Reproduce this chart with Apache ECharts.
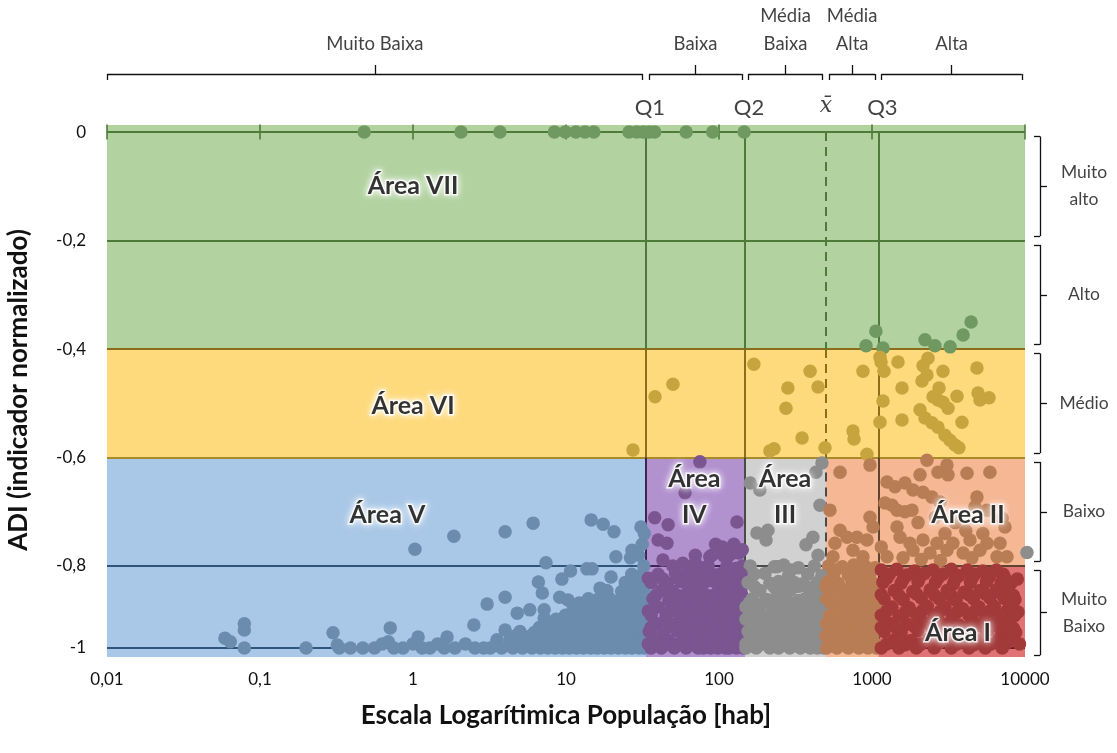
<!DOCTYPE html>
<html>
<head>
<meta charset="utf-8">
<script src="https://cdn.jsdelivr.net/npm/echarts@6/dist/echarts.min.js"></script>
<style>
html, body { margin: 0; padding: 0; background: #fff; }
#chart { width: 1117px; height: 753px; }
</style>
</head>
<body>
<div id="chart"></div>
<script>
// eixos
var xTicks = [0.01, 0.1, 1, 10, 100, 1000, 10000];
var xTickLabels = ['0,01', '0,1', '1', '10', '100', '1000', '10000'];
var yTicks = [0, -0.2, -0.4, -0.6, -0.8, -1];
var yTickLabels = ['0', '-0,2', '-0,4', '-0,6', '-0,8', '-1'];

// quartis e media da populacao
var Q1 = 33.3, Q2 = 148, MEAN = 500, Q3 = 1100;
var qNames = ['Q1', 'Q2', 'x\u0304', 'Q3'];
var qValues = [Q1, Q2, MEAN, Q3];

// classes
var popEdges = [0.01, Q1, Q2, MEAN, Q3, 10000];
var popClasses = ['Muito Baixa', 'Baixa', 'Média\nBaixa', 'Média\nAlta', 'Alta'];
var adiEdges = [0, -0.2, -0.4, -0.6, -0.8, -1];
var adiClasses = ['Muito\nalto', 'Alto', 'Médio', 'Baixo', 'Muito\nBaixo'];

var areaNames = ['Área VII', 'Área VI', 'Área V', 'Área\nIV', 'Área\nIII', 'Área II', 'Área I'];
var areaAt = [[1, -0.1], [1, -0.505], [0.68, -0.705], [69, -0.672], [270, -0.672], [4240, -0.705], [3650, -0.963]];

// municipios [populacao, ADI]
var ptsTop = [[0.48,0],[2.06,0],[3.7,0],[8.4,0],[9.9,0],[11.6,0],[13.3,0],[15.2,0],[25.8,0],[29,0],[32,0],[35,0],[38,0],[61,0],[91,0],[146,0]];
var ptsHigh = [[4440,-0.35],[3940,-0.374],[3240,-0.396],[2580,-0.394],[2220,-0.383],[1060,-0.367],[914,-0.394],[1180,-0.398]];
var ptsMid = [[27.4,-0.586],[38.2,-0.488],[50,-0.465],[169,-0.428],[394,-0.441],[282,-0.472],[274,-0.509],[444,-0.47],[349,-0.564],[215,-0.588],[229,-0.584],[493,-0.582],
  [873,-0.441],[751,-0.551],[763,-0.566],[927,-0.594],[1128,-0.415],[1146,-0.424],[1198,-0.441],[1479,-0.424],[1180,-0.496],[1128,-0.535],[1571,-0.472],[1571,-0.531],
  [2323,-0.417],[2154,-0.431],[2123,-0.459],[2287,-0.448],[2911,-0.441],[2742,-0.472],[2506,-0.488],[2700,-0.494],[2911,-0.498],[3140,-0.509],[3594,-0.487],
  [4853,-0.435],[4932,-0.481],[5080,-0.494],[5820,-0.49],[2060,-0.512],[2220,-0.527],[2466,-0.536],[2700,-0.544],[3873,-0.535],[2999,-0.559],[3236,-0.568],[3487,-0.577],[3700,-0.582]];
var ptsBlue = [[1.03,-0.769],[1.85,-0.745],[4.0,-0.737],[6.1,-0.721],[14.6,-0.715],[17.5,-0.723],[20.6,-0.737],[30.9,-0.728],[21.2,-0.783],[27,-0.771],[26.4,-0.785],[7.4,-0.794],
  [10.7,-0.812],[13.7,-0.807],[14.8,-0.807],[6.6,-0.839],[9.4,-0.832],[7.0,-0.866],[19.7,-0.827],[28.1,-0.846],[16.7,-0.854],[17.2,-0.876],[22.5,-0.883],[4.0,-0.876],
  [3.05,-0.893],[9.1,-0.876],[10.3,-0.883],[4.8,-0.915],[5.8,-0.907],[7.2,-0.907],[7.2,-0.927],[9.9,-0.92],[11.9,-0.92],[14.3,-0.912],[9.9,-0.95],[2.5,-0.944],
  [4.0,-0.956],[0.71,-0.951],[1.08,-0.973],[1.67,-0.973],[0.69,-0.985],[0.86,-1],[1.29,-1],[1.88,-1],[2.54,-1],[3.54,-0.98],[5.8,-0.973],[7.4,-0.973],[12.4,-0.988],[14.8,-0.973],
  [0.059,-0.976],[0.064,-0.985],[0.079,-0.941],[0.079,-0.956],[0.079,-1],[0.2,-1],[0.3,-0.963],[0.32,-0.993],[0.39,-1],[0.56,-1],
  [0.33,-1],[0.47,-1],[0.63,-0.99],[0.75,-1],[1.0,-0.99],[1.15,-1],[1.45,-0.99],[1.6,-1],[2.2,-0.99],[2.9,-1]];
var ptsBlueDense = [[3.2,-1],[3.8,-1],[4.5,-1],[5.2,-1],[6,-1],[6.8,-1],[7.6,-1],[8.5,-1],[9.5,-1],[10.5,-1],[11.7,-1],[13,-1],[14.5,-1],[16,-1],[17.8,-1],[19.7,-1],[22,-1],[24.5,-1],[27,-1],[30,-1],[32.5,-1],
  [3.5,-0.99],[4.9,-0.99],[6.4,-0.992],[7.3,-0.99],[9.2,-0.988],[11.4,-0.99],[14,-0.992],[16.6,-0.99],[20.4,-0.99],[23.7,-0.988],[28,-0.99],[31,-0.99],
  [4.3,-0.98],[5.6,-0.982],[6.5,-0.978],[8.2,-0.98],[9,-0.984],[10,-0.98],[11,-0.976],[12.2,-0.98],[13.6,-0.982],[15.2,-0.98],[17,-0.978],[18.8,-0.98],[21,-0.984],[23.2,-0.98],[25.8,-0.978],[28.5,-0.98],[31.5,-0.982],
  [4.7,-0.97],[5.9,-0.97],[7.5,-0.972],[8.8,-0.97],[10.3,-0.968],[12.7,-0.97],[14.9,-0.972],[17.5,-0.97],[19.4,-0.968],[23,-0.97],[26.3,-0.972],[29.2,-0.97],[32.4,-0.97],
  [5,-0.96],[6.2,-0.962],[7.1,-0.958],[8,-0.96],[9.6,-0.964],[10.6,-0.96],[11.8,-0.958],[13,-0.96],[14.6,-0.962],[16.2,-0.96],[18,-0.958],[20,-0.96],[22.4,-0.964],[25,-0.96],[27.5,-0.958],[30.5,-0.96],[32.8,-0.962],
  [6.7,-0.95],[8.6,-0.952],[11.5,-0.948],[13.5,-0.95],[15.5,-0.952],[18.6,-0.95],[21,-0.948],[24.2,-0.95],[26,-0.952],[29,-0.95],[31.8,-0.948],
  [7.8,-0.94],[9.2,-0.942],[10.9,-0.938],[12.5,-0.94],[14,-0.944],[15.8,-0.94],[17.4,-0.938],[19.3,-0.94],[21.5,-0.942],[23.8,-0.94],[26.5,-0.938],[29.5,-0.94],[32,-0.944],
  [8.6,-0.93],[11.4,-0.932],[16.5,-0.928],[20.2,-0.93],[22.6,-0.932],[25.3,-0.93],[28.2,-0.928],[30.7,-0.93],[33,-0.932],
  [10.2,-0.92],[12,-0.922],[13.8,-0.918],[15.3,-0.92],[17.2,-0.924],[19,-0.92],[21.2,-0.918],[23.5,-0.92],[26,-0.922],[28.8,-0.92],[31.6,-0.918],
  [12.8,-0.91],[16.6,-0.912],[19.9,-0.908],[24.6,-0.91],[27.2,-0.912],[30.2,-0.91],[32.6,-0.908],
  [11.2,-0.9],[13.1,-0.902],[15.1,-0.898],[18.2,-0.9],[20.4,-0.904],[22.8,-0.9],[25.2,-0.898],[27.9,-0.9],[30.8,-0.902],[33,-0.9],
  [12.2,-0.89],[17,-0.892],[21.4,-0.888],[28.4,-0.89],[31.4,-0.892],
  [14,-0.88],[16.1,-0.882],[19.1,-0.878],[24,-0.88],[26.6,-0.884],[29.4,-0.88],[32.2,-0.878],
  [18.5,-0.86],[23.1,-0.862],[25.6,-0.858],[30.1,-0.86],[32.4,-0.864],
  [24.4,-0.84],[29,-0.842],[32,-0.838],[26.9,-0.82],[31.2,-0.822],
  [32.2,-0.8],[29.8,-0.78],[31.5,-0.76],[32.5,-0.74]];
var ptsPurple = [[75,-0.608],[60,-0.665],[38,-0.711],[46.5,-0.724],[40,-0.752],[45.7,-0.758],[43,-0.789],[131,-0.719],[98,-0.771],[87,-0.783],[113,-0.785],[70,-0.794],[84,-0.802],
  [95,-0.76],[105,-0.765],[125,-0.76],[142,-0.77],[70,-0.78],[58,-0.795],[50,-0.8],
  [90,-0.78],[100,-0.775],[108,-0.782],[120,-0.778],[135,-0.776],
  [66,-0.8],[78,-0.805],[85,-0.8],[112,-0.802],[128,-0.806],[142,-0.8],
  [40,-0.82],[52,-0.818],[60,-0.824],[72,-0.82],[95,-0.822],[104,-0.818],[124,-0.825],[140,-0.82],
  [34.5,-0.83],[43,-0.832],[55,-0.828],[65,-0.83],[85,-0.832],[100,-0.83],[115,-0.828],[135,-0.83],
  [36,-0.84],[46,-0.842],[56,-0.838],[68,-0.845],[80,-0.84],[90,-0.836],[116,-0.842],[132,-0.84],[145,-0.844],
  [42,-0.86],[50,-0.862],[63,-0.858],[75,-0.865],[99,-0.86],[110,-0.858],[126,-0.862],[140,-0.866],
  [39,-0.87],[54,-0.872],[66,-0.868],[82,-0.87],[92,-0.872],[104,-0.87],[118,-0.868],[133,-0.87],
  [37,-0.88],[47,-0.884],[57,-0.878],[70,-0.882],[84,-0.88],[94,-0.886],[106,-0.88],[120,-0.884],[136,-0.878],[146,-0.882],
  [40,-0.9],[52,-0.902],[62,-0.898],[77,-0.904],[89,-0.9],[101,-0.898],[114,-0.902],[130,-0.9],[143,-0.906],
  [34.5,-0.91],[47,-0.912],[58,-0.908],[71,-0.91],[84,-0.912],[93,-0.91],[120,-0.908],[136,-0.91],[147,-0.912],
  [36,-0.92],[45,-0.922],[55,-0.918],[67,-0.924],[81,-0.92],[97,-0.922],[108,-0.918],[124,-0.92],[139,-0.924],
  [39,-0.94],[49,-0.942],[60,-0.938],[72,-0.944],[86,-0.94],[93,-0.936],[104,-0.942],[118,-0.94],[133,-0.944],[146,-0.938],
  [36,-0.95],[45,-0.952],[56,-0.948],[68,-0.95],[81,-0.952],[96,-0.95],[108,-0.948],[124,-0.95],[138,-0.952],
  [35,-0.96],[43,-0.962],[53,-0.958],[64,-0.964],[76,-0.96],[90,-0.958],[100,-0.962],[112,-0.96],[127,-0.964],[141,-0.958],
  [38,-0.98],[47,-0.982],[58,-0.978],[69,-0.984],[82,-0.98],[95,-0.978],[107,-0.982],[121,-0.98],[136,-0.984],[147,-0.978],
  [34.5,-0.99],[44,-0.992],[54,-0.99],[64,-0.988],[76,-0.99],[91,-0.992],[102,-0.99],[115,-0.988],[128,-0.99],[141,-0.992],
  [36,-1],[42,-1],[51,-1],[61,-1],[73,-1],[79,-1],[88,-1],[98,-1],[110,-1],[116,-1],[130,-1],[144,-1]];
var ptsGrey = [[471,-0.61],[430,-0.627],[160,-0.647],[185,-0.66],[457,-0.688],[177,-0.739],[203,-0.752],[370,-0.761],[444,-0.78],[209,-0.734],[411,-0.747],[296,-0.81],[240,-0.802],
  [160,-0.8],[230,-0.802],[265,-0.798],[330,-0.804],[420,-0.8],
  [170,-0.82],[200,-0.818],[285,-0.822],[380,-0.82],[470,-0.824],
  [155,-0.84],[215,-0.842],[245,-0.838],[310,-0.84],[350,-0.844],[440,-0.84],
  [170,-0.85],[230,-0.852],[280,-0.848],[330,-0.85],[380,-0.852],[460,-0.85],
  [185,-0.86],[260,-0.862],[295,-0.858],[400,-0.86],[485,-0.864],
  [165,-0.88],[205,-0.882],[235,-0.878],[275,-0.88],[330,-0.884],[365,-0.88],[455,-0.878],
  [158,-0.89],[190,-0.892],[240,-0.888],[290,-0.89],[320,-0.892],[390,-0.89],[430,-0.888],[470,-0.89],
  [150,-0.9],[180,-0.902],[220,-0.898],[250,-0.9],[300,-0.904],[345,-0.9],[420,-0.898],[490,-0.902],
  [160,-0.92],[195,-0.922],[230,-0.918],[265,-0.92],[315,-0.924],[380,-0.92],[445,-0.918],
  [150,-0.93],[180,-0.932],[215,-0.928],[250,-0.93],[295,-0.932],[350,-0.93],[410,-0.928],[480,-0.93],
  [170,-0.94],[210,-0.942],[240,-0.938],[285,-0.94],[335,-0.944],[360,-0.94],[405,-0.938],[470,-0.942],
  [155,-0.96],[185,-0.962],[225,-0.958],[255,-0.96],[300,-0.964],[350,-0.96],[390,-0.958],[430,-0.962],[495,-0.96],
  [160,-0.97],[200,-0.972],[245,-0.968],[285,-0.97],[335,-0.972],[380,-0.97],[450,-0.968],[485,-0.97],
  [165,-0.98],[200,-0.982],[235,-0.978],[270,-0.98],[320,-0.984],[370,-0.98],[415,-0.978],[460,-0.982],
  [150,-0.99],[185,-0.992],[225,-0.99],[260,-0.988],[305,-0.99],[355,-0.992],[400,-0.99],[475,-0.988],
  [150,-1],[175,-1],[215,-1],[245,-1],[290,-1],[340,-1],[395,-1],[440,-1],[485,-1]];
var ptsOrange = [[618,-0.627],[970,-0.614],[1254,-0.645],[1413,-0.654],[1643,-0.647],[1853,-0.66],[2060,-0.632],[2287,-0.605],[2700,-0.627],[3090,-0.614],[3140,-0.632],[4180,-0.629],[5900,-0.627],
  [1217,-0.684],[1352,-0.688],[1457,-0.697],[1643,-0.7],[1825,-0.697],[2154,-0.664],[2466,-0.673],[2780,-0.682],[4853,-0.673],[4710,-0.691],[5650,-0.697],[7080,-0.712],[7400,-0.728],
  [1457,-0.728],[1525,-0.747],[1770,-0.758],[2154,-0.752],[2660,-0.758],[3380,-0.758],[4370,-0.752],[5650,-0.758],[6870,-0.758],
  [1853,-0.771],[2395,-0.776],[3090,-0.771],[3940,-0.776],[5080,-0.771],[6560,-0.783],[7630,-0.783],[1254,-0.783],[1595,-0.785],
  [618,-0.734],[687,-0.747],[798,-0.747],[927,-0.752],[1016,-0.728],[970,-0.71],[573,-0.758],[556,-0.783],[751,-0.771],[873,-0.783],[531,-0.697],
  [2600,-0.71],[3500,-0.72],[4100,-0.735],[3000,-0.74],[2000,-0.72],[1150,-0.765],[5300,-0.74],[4500,-0.785],[2800,-0.79],[2100,-0.788],
  [520,-0.8],[640,-0.802],[760,-0.798],[900,-0.8],[1050,-0.804],
  [580,-0.81],[700,-0.812],[840,-0.808],[990,-0.81],
  [560,-0.82],[700,-0.822],[830,-0.818],[970,-0.82],
  [510,-0.84],[600,-0.842],[740,-0.838],[880,-0.84],[1060,-0.844],
  [500,-0.85],[620,-0.852],[760,-0.848],[900,-0.85],[1050,-0.852],
  [545,-0.86],[670,-0.862],[800,-0.858],[950,-0.86],
  [505,-0.88],[620,-0.882],[720,-0.878],[860,-0.88],[1020,-0.884],
  [540,-0.89],[660,-0.892],[800,-0.888],[960,-0.89],
  [580,-0.9],[690,-0.902],[780,-0.898],[930,-0.9],[1075,-0.902],
  [530,-0.92],[650,-0.922],[750,-0.918],[880,-0.92],[990,-0.924],
  [560,-0.93],[700,-0.932],[820,-0.928],[1040,-0.93],
  [505,-0.94],[600,-0.942],[710,-0.938],[830,-0.94],[960,-0.944],[1080,-0.94],
  [560,-0.96],[670,-0.962],[790,-0.958],[910,-0.96],[1040,-0.962],
  [500,-0.97],[610,-0.972],[730,-0.968],[850,-0.97],[990,-0.972],
  [520,-0.98],[630,-0.982],[740,-0.978],[860,-0.98],[990,-0.984],
  [560,-0.99],[680,-0.992],[800,-0.99],[930,-0.988],[1060,-0.99],
  [505,-1],[590,-1],[700,-1],[820,-1],[940,-1],[1070,-1]];
var ptsRed = [[1150,-0.81],[1450,-0.808],[1900,-0.812],[2500,-0.81],[3300,-0.808],[4200,-0.81],[5300,-0.812],[6500,-0.81],
  [1300,-0.82],[1700,-0.822],[2200,-0.818],[2900,-0.82],[3700,-0.824],[4700,-0.82],[6000,-0.818],[7200,-0.82],
  [1250,-0.83],[1600,-0.832],[2050,-0.828],[2700,-0.83],[3500,-0.832],[4500,-0.83],[5800,-0.828],[7400,-0.83],[8900,-0.832],
  [1180,-0.84],[1550,-0.842],[2000,-0.838],[2600,-0.84],[3400,-0.844],[4400,-0.84],[5600,-0.838],[7000,-0.84],[8100,-0.842],
  [1400,-0.86],[1850,-0.862],[2400,-0.858],[3100,-0.86],[4000,-0.864],[5100,-0.86],[6500,-0.858],[7800,-0.86],
  [1150,-0.87],[1500,-0.872],[1950,-0.868],[2550,-0.87],[3300,-0.872],[4300,-0.87],[5500,-0.868],[7100,-0.87],[8400,-0.872],
  [1200,-0.88],[1600,-0.882],[2100,-0.878],[2750,-0.88],[3550,-0.884],[4600,-0.88],[5900,-0.878],[7400,-0.88],[8600,-0.882],
  [1350,-0.9],[1750,-0.902],[2300,-0.898],[3000,-0.9],[3900,-0.904],[5000,-0.9],[6300,-0.898],[8000,-0.9],
  [1250,-0.91],[1650,-0.912],[2150,-0.908],[2800,-0.91],[3600,-0.912],[4700,-0.91],[6000,-0.908],[7600,-0.91],[9000,-0.912],
  [1150,-0.92],[1500,-0.922],[1950,-0.918],[2550,-0.92],[3350,-0.924],[4300,-0.92],[5500,-0.918],[7000,-0.92],[8500,-0.922],
  [1300,-0.94],[1700,-0.942],[2200,-0.938],[2850,-0.94],[3700,-0.944],[4800,-0.94],[6100,-0.938],[7700,-0.94],
  [1150,-0.95],[1450,-0.952],[1900,-0.948],[2450,-0.95],[3200,-0.952],[4150,-0.95],[5300,-0.948],[6800,-0.95],[8400,-0.952],
  [1200,-0.96],[1550,-0.962],[2000,-0.958],[2650,-0.96],[3450,-0.964],[4450,-0.96],[5700,-0.958],[7300,-0.96],[8700,-0.962],
  [1400,-0.98],[1800,-0.982],[2350,-0.978],[3050,-0.98],[4000,-0.984],[5200,-0.98],[6700,-0.978],[8200,-0.98],
  [1250,-0.99],[1650,-0.992],[2100,-0.99],[2750,-0.988],[3600,-0.99],[4650,-0.992],[6000,-0.99],[7600,-0.988],[9200,-0.99],
  [1150,-1],[1500,-1],[1950,-1],[2550,-1],[3300,-1],[4300,-1],[5500,-1],[7100,-1]];
var ptsOutside = [[10300,-0.775]];

var FONT = 'Lato';
var Y_TOP = 0.013, Y_BOT = -1.022;

var fill = { green: '#B2D3A0', gold: '#FEDA7C', blue: '#A9C8E7', purple: '#B291CF', grey: '#D1D1D1', orange: '#F5B794', red: '#E07373' };
var dot = { green: '#6F9960', gold: '#C8A43E', blue: '#6B8CAD', purple: '#7A5590', grey: '#8D8D8D', orange: '#B97D55', red: '#A23A3A', out: '#8D8D8D' };
var lineCol = { green: '#4E7B3A', gold: '#8C6D1C', gold2: '#A88A2A', blue: '#2F557A', purple: '#3F2456', grey: '#4A4A4A', orange: '#5E4330', red: '#6E1C1C' };

function zoneOf(x, y) {
    if (x > popEdges[5]) return 'out';
    if (y > adiEdges[2]) return 'green';
    if (y > adiEdges[3]) return 'gold';
    if (x < Q1) return 'blue';
    if (x < Q2) return 'purple';
    if (x < MEAN) return 'grey';
    if (y > adiEdges[4] || x < Q3) return 'orange';
    return 'red';
}

function rect(x1, y1, x2, y2, c) {
    return [{ coord: [x1, y1], itemStyle: { color: c } }, { coord: [x2, y2] }];
}
function seg(x1, y1, x2, y2, c, w, t) {
    return [{ coord: [x1, y1], lineStyle: { color: c, width: w || 2, type: t || 'solid' } }, { coord: [x2, y2] }];
}

// fundos
var areasUp = [
    rect(popEdges[0], Y_TOP, popEdges[5], adiEdges[2], fill.green),
    rect(popEdges[0], adiEdges[2], popEdges[5], adiEdges[3], fill.gold)
];
var upKeys = ['blue', 'purple', 'grey', 'orange'];
for (var i = 0; i < 4; i++) {
    areasUp.push(rect(popEdges[i], adiEdges[3], i === 3 ? popEdges[5] : popEdges[i + 1], adiEdges[4], fill[upKeys[i]]));
}
var lowKeys = ['blue', 'purple', 'grey', 'orange', 'red'];
var areasLow = [];
for (var i = 0; i < 5; i++) {
    areasLow.push(rect(popEdges[i], adiEdges[4], popEdges[i + 1], Y_BOT, fill[lowKeys[i]]));
}

// linhas
var qLow = [lineCol.purple, lineCol.grey, lineCol.grey, lineCol.orange];
var qLow2 = [lineCol.purple, lineCol.grey, lineCol.grey, lineCol.red];
var linesUp = [
    seg(popEdges[0], adiEdges[0], popEdges[5], adiEdges[0], lineCol.green),
    seg(popEdges[0], adiEdges[1], popEdges[5], adiEdges[1], lineCol.green),
    seg(popEdges[0], adiEdges[2], popEdges[5], adiEdges[2], lineCol.gold),
    seg(popEdges[0], adiEdges[3], popEdges[5], adiEdges[3], lineCol.gold2)
];
var linesLow = [];
qValues.forEach(function (q, i) {
    var t = i === 2 ? [9, 6] : 'solid';
    linesUp.push(seg(q, adiEdges[0], q, adiEdges[2], lineCol.green, 2, t));
    linesUp.push(seg(q, adiEdges[2], q, adiEdges[3], lineCol.gold, 2, t));
    linesUp.push(seg(q, adiEdges[3], q, adiEdges[4], qLow[i], 2, t));
    linesLow.push(seg(q, adiEdges[4], q, adiEdges[5], qLow2[i], 2, t));
});
var hKeys = ['blue', 'purple', 'grey', 'orange', 'red'];
for (var i = 0; i < 5; i++) {
    var c8 = i === 4 ? lineCol.orange : lineCol[hKeys[i]];
    linesUp.push(seg(popEdges[i], adiEdges[4], popEdges[i + 1], adiEdges[4], c8));
    linesLow.push(seg(popEdges[i], adiEdges[5], popEdges[i + 1], adiEdges[5], lineCol[hKeys[i]]));
}

// chaves de cima (classes de populacao)
var topLines = [], topLabels = [];
var gap = 1.05;
for (var i = 0; i < popClasses.length; i++) {
    var a = popEdges[i] * (i === 0 ? 1 : gap), b = popEdges[i + 1] / gap, m = Math.sqrt(a * b);
    topLines.push(seg(a, 74, b, 74, '#111', 1.3));
    topLines.push(seg(a, 74, a, 80, '#111', 1.3));
    topLines.push(seg(b, 74, b, 80, '#111', 1.3));
    topLines.push(seg(m, 74, m, 65, '#111', 1.3));
    topLabels.push({ value: [m, 62], name: popClasses[i] });
}

// chaves da direita (classes de ADI)
var rightUp = [], rightLow = [], rightLabUp = [], rightLabLow = [];
for (var j = 0; j < adiClasses.length; j++) {
    var pad = j === 4 ? 0.01 : 0.008;
    var yHi = adiEdges[j] - pad;
    var yLo = j === 4 ? -1.018 : adiEdges[j + 1] + pad;
    var yMid = (yHi + yLo) / 2;
    var arr = j === 4 ? rightLow : rightUp;
    arr.push(seg(15, yHi, 15, yLo, '#111', 1.3));
    arr.push(seg(9, yHi, 15, yHi, '#111', 1.3));
    arr.push(seg(9, yLo, 15, yLo, '#111', 1.3));
    arr.push(seg(15, yMid, 22, yMid, '#111', 1.3));
    (j === 4 ? rightLabLow : rightLabUp).push({ value: [59, yMid], name: adiClasses[j] });
}

var allPts = [].concat(ptsTop, ptsHigh, ptsMid, ptsBlue, ptsBlueDense, ptsPurple, ptsGrey, ptsOrange, ptsRed, ptsOutside);
var ptsUp = allPts.filter(function (p) { return p[1] >= adiEdges[4]; });
var ptsLow = allPts.filter(function (p) { return p[1] < adiEdges[4]; });

function dotColor(p) { return dot[zoneOf(p.value[0], p.value[1])]; }
function fmtY(v) {
    for (var k = 0; k < yTicks.length; k++) if (Math.abs(v - yTicks[k]) < 1e-6) return yTickLabels[k];
    return '';
}
function fmtX(v) { return xTickLabels[Math.round(Math.log10(v)) + 2]; }

var areaLabel = {
    show: true, position: 'inside', formatter: '{b}', color: '#000', fontFamily: FONT, fontWeight: 'bold', fontSize: 25,
    lineHeight: 36, textBorderColor: '#fff', textBorderWidth: 3, textShadowColor: '#fff', textShadowBlur: 7
};
var upArea = [], lowArea = [];
areaAt.forEach(function (p, i) {
    (p[1] >= adiEdges[4] ? upArea : lowArea).push({ value: p, name: areaNames[i] });
});

var hidden = { show: false };
var chart = echarts.init(document.getElementById('chart'));
chart.setOption({
    animation: false,
    textStyle: { fontFamily: FONT },
    grid: [
        { left: 107, width: 918, top: 125, height: 441 },
        { left: 107, width: 918, top: 566, height: 91 },
        { left: 107, width: 918, top: 0, height: 125 },
        { left: 1025, width: 92, top: 125, height: 441 },
        { left: 1025, width: 92, top: 566, height: 91 }
    ],
    xAxis: [
        { gridIndex: 0, type: 'log', logBase: 10, min: 0.01, max: 10000, axisLine: hidden, axisTick: hidden, axisLabel: hidden, splitLine: hidden },
        { gridIndex: 1, type: 'log', logBase: 10, min: 0.01, max: 10000, axisLine: hidden, axisTick: hidden, splitLine: hidden,
          axisLabel: { customValues: xTicks, formatter: fmtX, fontSize: 17, color: '#111', margin: 14 },
          name: 'Escala Logarítimica População [hab]', nameLocation: 'middle', nameGap: 46,
          nameTextStyle: { fontSize: 26, fontWeight: 'bold', color: '#111', fontFamily: FONT } },
        { gridIndex: 2, type: 'log', logBase: 10, min: 0.01, max: 10000, show: false },
        { gridIndex: 3, type: 'value', min: 0, max: 92, show: false },
        { gridIndex: 4, type: 'value', min: 0, max: 92, show: false }
    ],
    yAxis: [
        { gridIndex: 0, type: 'value', min: adiEdges[4], max: Y_TOP, axisLine: hidden, axisTick: hidden, splitLine: hidden,
          axisLabel: { customValues: yTicks.slice(0, 5), formatter: fmtY, fontSize: 17, color: '#111', margin: 21 } },
        { gridIndex: 1, type: 'value', min: Y_BOT, max: adiEdges[4], axisLine: hidden, axisTick: hidden, splitLine: hidden,
          axisLabel: { customValues: [adiEdges[5]], formatter: fmtY, fontSize: 17, color: '#111', margin: 21 } },
        { gridIndex: 2, type: 'value', min: 0, max: 125, inverse: true, show: false },
        { gridIndex: 3, type: 'value', min: adiEdges[4], max: Y_TOP, show: false },
        { gridIndex: 4, type: 'value', min: Y_BOT, max: adiEdges[4], show: false }
    ],
    graphic: [{
        type: 'text', x: 19, y: 390, rotation: Math.PI / 2,
        style: { text: 'ADI (indicador normalizado)', font: 'bold 26px Lato', fill: '#111',
                 textAlign: 'center', textVerticalAlign: 'middle', align: 'center', verticalAlign: 'middle' }
    }],
    series: [
        { type: 'scatter', xAxisIndex: 0, yAxisIndex: 0, data: [], silent: true, z: 1,
          markArea: { silent: true, z: 1, data: areasUp } },
        { type: 'scatter', xAxisIndex: 1, yAxisIndex: 1, data: [], silent: true, z: 1,
          markArea: { silent: true, z: 1, data: areasLow } },
        { type: 'scatter', xAxisIndex: 0, yAxisIndex: 0, data: xTicks.map(function (v) { return [v, adiEdges[0]]; }),
          symbol: 'rect', symbolSize: [2, 15], itemStyle: { color: lineCol.green }, silent: true, z: 2,
          markLine: { silent: true, z: 2, symbol: ['none', 'none'], label: hidden, data: linesUp } },
        { type: 'scatter', xAxisIndex: 1, yAxisIndex: 1, data: [], silent: true, z: 2,
          markLine: { silent: true, z: 2, symbol: ['none', 'none'], label: hidden, data: linesLow } },
        { type: 'scatter', xAxisIndex: 0, yAxisIndex: 0, data: ptsUp, symbolSize: 13.5, clip: false, z: 3,
          itemStyle: { color: dotColor, opacity: 1 } },
        { type: 'scatter', xAxisIndex: 1, yAxisIndex: 1, data: ptsLow, symbolSize: 13.5, clip: false, z: 3,
          itemStyle: { color: dotColor, opacity: 1 } },
        { type: 'scatter', xAxisIndex: 0, yAxisIndex: 0, data: upArea, symbolSize: 1, clip: false, z: 5, silent: true,
          itemStyle: { color: 'rgba(0,0,0,0)' }, label: areaLabel },
        { type: 'scatter', xAxisIndex: 1, yAxisIndex: 1, data: lowArea, symbolSize: 1, clip: false, z: 5, silent: true,
          itemStyle: { color: 'rgba(0,0,0,0)' }, label: areaLabel },
        { type: 'scatter', xAxisIndex: 2, yAxisIndex: 2, silent: true, symbolSize: 1, itemStyle: { color: 'rgba(0,0,0,0)' },
          data: topLabels,
          label: { show: true, position: 'top', distance: 3, formatter: '{b}', fontSize: 18.5, lineHeight: 28, color: '#111' },
          markLine: { silent: true, symbol: ['none', 'none'], label: hidden, data: topLines } },
        { type: 'scatter', xAxisIndex: 2, yAxisIndex: 2, silent: true, symbolSize: 1, itemStyle: { color: 'rgba(0,0,0,0)' },
          data: qValues.map(function (q, i) {
              return { value: [q, 108], name: qNames[i],
                       label: i === 2 ? { fontFamily: 'DejaVu Serif', fontStyle: 'italic', offset: [0, -2] } : { offset: [4, 0] } };
          }),
          label: { show: true, position: 'inside', formatter: '{b}', fontSize: 22, color: '#111' } },
        { type: 'scatter', xAxisIndex: 3, yAxisIndex: 3, silent: true, symbolSize: 1, itemStyle: { color: 'rgba(0,0,0,0)' },
          data: rightLabUp,
          label: { show: true, position: 'inside', formatter: '{b}', fontSize: 17.5, lineHeight: 27, color: '#111' },
          markLine: { silent: true, symbol: ['none', 'none'], label: hidden, data: rightUp } },
        { type: 'scatter', xAxisIndex: 4, yAxisIndex: 4, silent: true, symbolSize: 1, itemStyle: { color: 'rgba(0,0,0,0)' },
          data: rightLabLow,
          label: { show: true, position: 'inside', formatter: '{b}', fontSize: 17.5, lineHeight: 27, color: '#111' },
          markLine: { silent: true, symbol: ['none', 'none'], label: hidden, data: rightLow } }
    ]
});
</script>
</body>
</html>
